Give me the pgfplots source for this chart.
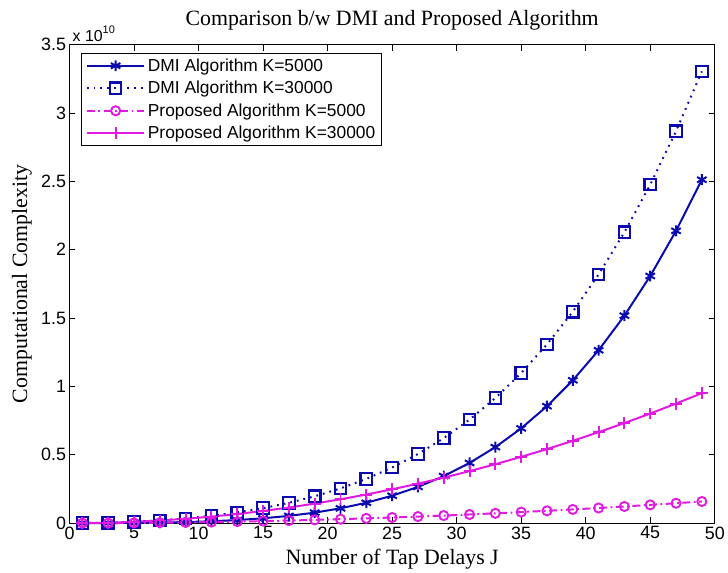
\documentclass[border=0pt]{standalone}
\usepackage{fontspec}
\setmainfont{Liberation Serif}
\newfontfamily\arial{Liberation Sans}
\usepackage{pgfplots}
\usepackage{pgfplotstable}
\pgfplotsset{compat=1.18}
\definecolor{dmiblue}{RGB}{10,10,175}
\definecolor{mag}{RGB}{225,25,225}
\newcommand{\ticksfont}{\arial\fontsize{18}{20}\selectfont}
\newcommand{\labfont}{\fontsize{22}{25}\selectfont}
\newcommand{\legfont}{\arial\fontsize{17.5}{20}\selectfont}
\pgfplotstableread{
J d5 d30 p5 p30
1 0.0001 0.0004 0.0001 0.0004
3 0.0006 0.0036 0.0006 0.0036
5 0.0019 0.0102 0.0017 0.0099
7 0.0042 0.0204 0.0032 0.0194
9 0.0080 0.0348 0.0054 0.0321
11 0.0140 0.0539 0.0080 0.0479
13 0.0228 0.0786 0.0112 0.0669
15 0.0355 0.1098 0.0149 0.0891
17 0.0532 0.1485 0.0191 0.1144
19 0.0770 0.1962 0.0238 0.1430
21 0.1085 0.2540 0.0291 0.1746
23 0.1492 0.3238 0.0349 0.2095
25 0.2007 0.4070 0.0413 0.2475
27 0.2651 0.5057 0.0481 0.2887
29 0.3443 0.6218 0.0555 0.3330
31 0.4405 0.7577 0.0634 0.3806
33 0.5561 0.9154 0.0719 0.4312
35 0.6936 1.0978 0.0809 0.4851
37 0.8556 1.3075 0.0904 0.5421
39 1.0450 1.5469 0.1004 0.6023
41 1.2647 1.8195 0.1109 0.6657
43 1.5179 2.1281 0.1220 0.7322
45 1.8079 2.4762 0.1337 0.8019
47 2.1382 2.8672 0.1458 0.8748
49 2.5122 3.3046 0.1585 0.9508
}\datatable
\begin{document}
\begin{tikzpicture}
\begin{axis}[
  scale only axis, width=650pt, height=482pt,
  xmin=0, xmax=50, ymin=0, ymax=3.5,
  xtick={0,5,...,50}, ytick={0,0.5,1,1.5,2,2.5,3,3.5},
  tick align=inside, major tick length=6pt,
  tick label style={font=\ticksfont},
  /pgf/number format/assume math mode=true,
  axis line style={line width=0.9pt},
  every tick/.style={black, line width=0.9pt},
  title={Comparison b/w DMI and Proposed Algorithm},
  title style={font=\labfont, at={(axis description cs:0.5,1)}, anchor=base, yshift=13pt},
  xlabel={Number of Tap Delays J},
  xlabel style={font=\labfont, at={(axis description cs:0.5,0)}, anchor=base, yshift=-42pt},
  ylabel={Computational Complexity},
  ylabel style={font=\labfont, at={(axis description cs:-0.0738,0.5)}, anchor=center},
  clip=false,
  legend style={at={(0.0185,0.983)}, anchor=north west, font=\legfont,
    draw=black, line width=0.9pt, fill=white, inner xsep=4pt, inner ysep=3pt,
    row sep=3.5pt, nodes={inner sep=2.5pt}},
  legend cell align=left,
  legend image code/.code={\draw[mark repeat=2,mark phase=2,#1] plot coordinates {(0pt,0pt) (29pt,0pt) (58pt,0pt)};},
]
\coordinate (SW) at (rel axis cs:0,0);
\coordinate (NE) at (rel axis cs:1,1);
\addplot[color=dmiblue, line width=2pt, mark=asterisk, mark size=5.5pt, mark options={solid, line width=2pt}] table[x=J, y=d5] {\datatable};
\addlegendentry{DMI Algorithm K=5000}
\addplot[color=dmiblue, line width=2pt, dash pattern=on 1.8pt off 5pt, mark=square, mark size=5.8pt, mark options={solid, line width=2.2pt}] table[x=J, y=d30] {\datatable};
\addlegendentry{DMI Algorithm K=30000}
\addplot[color=mag, line width=2pt, dash pattern=on 8pt off 3.5pt on 1.8pt off 3.5pt, mark=o, mark size=4.6pt, mark options={solid, line width=1.9pt}] table[x=J, y=p5] {\datatable};
\addlegendentry{Proposed Algorithm K=5000}
\addplot[color=mag, line width=2pt, mark=+, mark size=6pt, mark options={solid, line width=2pt}] table[x=J, y=p30] {\datatable};
\addlegendentry{Proposed Algorithm K=30000}
\node[anchor=south west, inner sep=0pt, font=\arial\fontsize{16}{18}\selectfont] at ([xshift=3pt,yshift=3pt]rel axis cs:0,1) {x 10\raisebox{8pt}{\fontsize{11}{11}\selectfont 10}};
\end{axis}
\path ([shift={(-70pt,-50pt)}]SW) rectangle ([shift={(8pt,45pt)}]NE);
\end{tikzpicture}
\end{document}
